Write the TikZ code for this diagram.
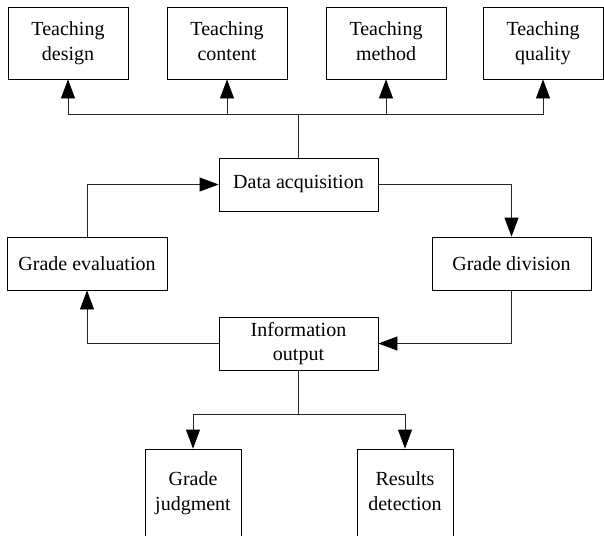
\documentclass[tikz,border=0pt]{standalone}
\usepackage{fontspec}
\setmainfont{Liberation Serif}
\usetikzlibrary{arrows.meta}
\begin{document}
\begin{tikzpicture}[x=1pt,y=-1pt,
  box/.style={draw=black,line width=0.8pt,rectangle,align=center,inner sep=0pt,
    font=\fontsize{20}{24.5}\selectfont},
  topbox/.style={box,minimum width=120pt,minimum height=72pt},
  midbox/.style={box,minimum width=159pt,minimum height=53pt},
  lowbox/.style={box,minimum width=96pt,minimum height=88pt},
  conn/.style={draw=black!85,line width=0.8pt},
  arr/.style={conn,-{Triangle[length=19pt,width=14pt,color=black]}}]
\useasboundingbox (0,0) rectangle (604,535);
\clip (0,0) rectangle (604,535);
% top boxes
\node[topbox] (td) at (68,43) {\strut Teaching\\design\strut};
\node[topbox] (tc) at (227,43) {\strut Teaching\\content\strut};
\node[topbox] (tm) at (386,43) {\strut Teaching\\method\strut};
\node[topbox] (tq) at (543,43) {\strut Teaching\\quality\strut};
% middle boxes
\node[midbox] (da) at (298.5,184.5) {Data acquisition};
\node[midbox,minimum width=160pt] (ge) at (87,263.5) {Grade evaluation};
\node[midbox] (gd) at (511.5,263.5) {Grade division};
\node[midbox] (io) at (298.5,343.5) {\strut Information\\output\strut};
% bottom boxes
\node[lowbox] (gj) at (193,493) {\strut Grade\\judgment\strut};
\node[lowbox] (rd) at (405,493) {\strut Results\\detection\strut};
% coordinates
\coordinate (t) at (298.5,114);
\coordinate (b) at (298.5,414);
% top distribution
\draw[conn] (da.north) -- (t);
\draw[arr] (t) -| (td.south);
\draw[arr] (t) -| (tc.south);
\draw[arr] (t) -| (tm.south);
\draw[arr] (t) -| (tq.south);
% loop
\draw[arr] (da.east) -| (gd.north);
\draw[arr] (gd.south) |- (io.east);
\draw[arr] (io.west) -| (ge.south);
\draw[arr] (ge.north) |- (da.west);
% bottom distribution
\draw[conn] (io.south) -- (b);
\draw[arr] (b) -| (gj.north);
\draw[arr] (b) -| (rd.north);
\end{tikzpicture}
\end{document}
